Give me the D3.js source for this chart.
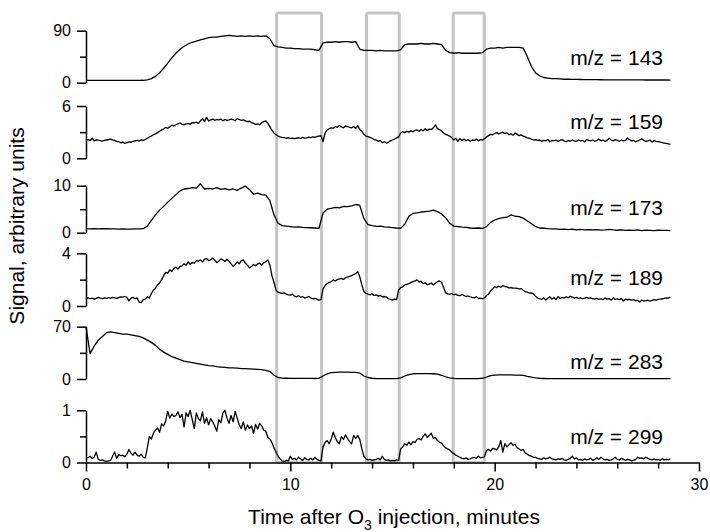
<!DOCTYPE html>
<html>
<head>
<meta charset="utf-8">
<script src="https://cdn.jsdelivr.net/npm/d3@7"></script>
<style>
  body { margin: 0; background: #fff; }
  svg { display: block; }
  text { font-family: "Liberation Sans", Arial, sans-serif; fill: #000; }
</style>
</head>
<body>
<svg id="chart" width="710" height="532"></svg>
<script>
// ---- data ------------------------------------------------------------
const seriesNames = ["m/z = 143", "m/z = 159", "m/z = 173", "m/z = 189", "m/z = 283", "m/z = 299"];
const seriesMax = [90, 6, 10, 4, 70, 1];

// windows (minutes) marked by grey frames
const windowStart = [9.33, 13.73, 17.97];
const windowEnd = [11.53, 15.33, 19.49];

const xMajorTicks = [0, 10, 20, 30];
const xMinorTicks = [2, 4, 6, 8, 12, 14, 16, 18, 22, 24, 26, 28];

// sampling interval of each record, minutes
const sampleStep = [0.2, 0.1, 0.2, 0.1, 0.2, 0.1];

const mz143 = [
  4,4,4,4,4, 4,4,4,4,4, 4,4,4,4,4.2,
  5,7,11,17,25, 34,43,51,58,63, 67,70,72,74,76,
  78,79,79,80,81, 82,81,80,81,80, 81,80,81,80,81,
  76,64,62,61,60, 60,59,59,58,58, 58,57,56,69,70,
  70,71,70,71,71, 70,71,58,56,56, 56,55,56,55,55,
  55,55,57,66,67, 67,67,68,67,67, 68,67,66,56,52,
  51,52,51,51,51, 51,51,52,58,60, 60,61,60,61,61,
  61,61,60,45,28, 17,12,9,8,7, 7,6.5,6,6,5.8,
  5.6,5.5,5.4,5.3,5.2, 5.2,5.1,5,5,5, 5,4.9,4.9,4.8,4.8,
  4.8,4.8,4.7,4.7,4.7, 4.7,4.7,4.7,4.6
];

const mz159 = [
  2.10,2.15,2.05,2.30,2.00,2.12,2.08,2.02,1.98,2.05,
  2.10,2.15,2.20,2.12,2.05,1.95,1.90,1.78,1.85,1.72,
  1.80,1.88,1.82,1.95,2.00,2.05,1.98,2.10,2.05,2.15,
  2.30,2.45,2.55,2.70,2.80,2.95,3.10,3.25,3.35,3.55,
  3.45,3.60,3.80,3.70,3.85,3.95,4.05,3.90,3.85,3.95,
  4.00,3.90,4.10,4.05,4.15,4.00,4.30,4.55,4.20,4.70,
  4.30,4.40,4.50,4.35,4.45,4.40,4.50,4.30,4.45,4.35,
  4.40,4.50,4.45,4.30,4.55,4.45,4.35,4.40,4.30,4.20,
  4.25,4.10,4.00,3.90,3.95,3.85,4.10,4.20,4.30,4.00,
  3.60,3.20,2.90,2.70,2.55,2.45,2.40,2.38,2.30,2.35,
  2.28,2.32,2.25,2.30,2.35,2.28,2.40,2.32,2.35,2.42,
  2.38,2.45,2.40,2.50,2.55,2.60,1.90,2.90,3.25,3.40,
  3.50,3.45,3.62,3.55,3.75,3.60,3.50,3.70,3.65,3.55,
  3.50,3.65,3.40,3.75,3.30,3.10,2.75,2.55,2.48,2.40,
  2.30,2.15,2.10,1.95,2.05,1.80,1.90,1.75,1.85,2.00,
  2.10,2.20,2.35,2.45,2.90,3.05,2.95,3.10,3.00,3.15,
  3.05,3.20,3.25,3.10,3.30,3.15,3.40,3.20,3.35,3.30,
  3.50,3.85,3.40,3.30,3.15,2.90,2.75,2.65,2.55,2.35,
  2.10,2.30,1.95,2.25,2.05,2.20,2.00,2.15,1.95,2.10,
  2.05,2.20,2.00,2.15,2.10,2.25,2.45,2.60,2.75,2.70,
  2.85,2.95,2.80,2.90,3.00,2.85,2.92,2.70,2.80,2.65,
  2.90,2.75,2.60,2.68,2.55,2.45,2.35,2.30,2.20,2.10,
  2.15,2.05,2.10,1.95,2.05,2.00,2.15,1.90,2.05,2.00,
  2.10,1.95,2.05,2.15,2.00,1.90,2.05,1.95,2.10,2.00,
  1.95,2.10,2.00,2.05,1.90,2.15,2.05,2.00,2.10,1.95,
  2.05,2.20,2.00,2.10,1.95,2.05,2.30,2.10,2.00,2.15,
  2.05,1.95,2.10,2.00,2.05,2.30,2.15,2.00,2.05,1.90,
  2.00,2.10,2.25,2.05,1.95,2.00,2.10,1.85,2.05,1.95,
  1.90,1.85,1.80,1.75,1.70,1.65,1.60
];

const mz173 = [
  0.85,0.82,0.88,0.80,0.84, 0.86,0.80,0.82,0.78,0.80,
  0.74,0.78,0.82,0.80,0.85, 1.40,2.60,3.80,4.80,5.60,
  6.50,7.30,8.10,8.90,9.30, 9.40,9.60,9.50,10.40,9.30,
  9.45,9.30,9.60,9.20,9.40, 9.10,9.30,9.00,9.50,9.90,
  9.20,8.20,8.40,8.10,8.00, 6.80,3.80,2.00,1.50,1.40,
  1.30,1.20,1.25,1.15,1.10, 1.05,1.00,0.90,4.20,5.00,
  5.20,5.40,5.30,5.60,5.55, 5.70,6.00,5.80,3.00,1.70,
  1.50,1.35,1.40,1.25,1.20, 1.10,1.00,0.95,1.80,3.50,
  4.10,4.20,4.40,4.50,4.60, 4.80,4.50,4.00,3.20,2.00,
  1.40,1.30,1.20,1.15,1.00, 0.95,1.00,0.90,1.30,2.20,
  2.70,3.00,3.20,3.30,3.80, 3.50,3.40,3.10,2.50,1.90,
  1.30,1.00,0.95,0.85,0.80, 0.82,0.70,0.78,0.65,0.75,
  0.62,0.70,0.60,0.66,0.58, 0.65,0.55,0.60,0.70,0.58,
  0.52,0.60,0.48,0.55,0.50, 0.58,0.46,0.55,0.50,0.45,
  0.52,0.48,0.50,0.46
];

const mz189 = [
  0.58,0.62,0.55,0.60,0.52,0.58,0.66,0.60,0.56,0.62,
  0.58,0.64,0.60,0.66,0.62,0.58,0.64,0.70,0.68,0.72,
  0.65,0.38,0.60,0.66,0.55,0.62,0.30,0.25,0.48,0.52,
  0.70,0.60,0.95,1.20,1.35,1.60,1.75,2.00,2.30,2.55,
  2.50,2.75,2.62,2.85,2.95,2.80,3.00,3.05,3.20,3.10,
  3.35,3.15,3.30,3.25,3.45,3.40,3.50,3.35,3.55,3.60,
  3.45,3.50,3.65,3.48,3.30,3.40,3.58,3.50,3.38,3.55,
  3.40,3.20,3.00,3.15,3.35,3.20,3.45,3.50,3.25,3.10,
  2.90,3.00,3.15,3.05,3.20,3.25,3.10,3.30,3.35,3.50,
  3.10,2.30,1.80,1.20,1.05,1.00,0.95,1.00,0.90,0.85,
  0.82,0.90,0.75,0.70,0.78,0.68,0.72,0.60,0.66,0.72,
  0.62,0.55,0.58,0.52,0.45,0.48,1.30,1.55,1.70,1.80,
  1.85,1.98,1.90,2.00,2.05,2.10,2.02,2.15,2.20,2.25,
  2.30,2.40,2.45,2.62,2.20,1.60,1.10,0.95,0.90,0.85,
  0.92,0.80,0.85,0.75,0.80,0.70,0.72,0.68,0.55,0.50,
  0.45,0.52,0.48,1.20,1.40,1.45,1.60,1.65,1.70,1.78,
  1.85,1.90,1.98,1.82,1.88,1.70,1.75,1.62,1.66,1.75,
  1.60,1.72,1.85,1.90,1.80,1.40,1.00,0.92,0.88,0.95,
  0.85,0.90,0.80,0.78,0.88,0.80,0.72,0.76,0.70,0.65,
  0.62,0.70,0.58,0.60,0.55,0.62,0.80,0.90,1.15,1.30,
  1.46,1.40,1.50,1.42,1.55,1.48,1.45,1.38,1.40,1.35,
  1.36,1.34,1.30,1.32,1.20,1.10,1.05,0.98,1.00,0.90,
  0.75,0.60,0.55,0.50,0.62,0.45,0.58,0.70,0.52,0.65,
  0.48,0.72,0.56,0.66,0.60,0.70,0.62,0.74,0.68,0.60,
  0.65,0.58,0.62,0.55,0.60,0.66,0.58,0.62,0.55,0.52,
  0.58,0.50,0.55,0.48,0.60,0.52,0.56,0.45,0.62,0.50,
  0.55,0.48,0.58,0.38,0.52,0.46,0.50,0.44,0.48,0.40,
  0.42,0.30,0.45,0.38,0.40,0.44,0.36,0.42,0.48,0.45,
  0.50,0.52,0.55,0.58,0.62,0.60,0.68
];

const mz283 = [
  70,34,44,52,57, 62,63,62,61,60, 60,59,58,57,55,
  52,49,45,40,36, 33,30,28,26,24, 23,22,21,20,19,
  18,17.5,16.5,16,15.5, 15,14.8,14.5,14,13.8, 13.5,13.2,13,12.5,11.5,
  10,5,2,1.2,1, 0.9,0.9,0.8,0.8,0.8, 0.8,0.7,0.8,4,7,
  8.5,9,9.2,9.2,9.1, 9,9,8,4,2, 1,0.6,0.5,0.5,0.5,
  0.5,0.5,1.5,4,6, 7,7.2,7.2,7.2,7.1, 7,6.5,5,3,1.5,
  0.8,0.6,0.5,0.5,0.5, 0.5,0.5,1,2.5,4.5, 5.2,5.4,5.4,5.4,5.4,
  5.3,5.2,4.8,3.5,2.4, 1.5,1,0.7,0.5,0.4, 0.4,0.4,0.4,0.4,0.4,
  0.4,0.4,0.4,0.4,0.4, 0.4,0.4,0.4,0.4,0.4, 0.4,0.4,0.4,0.4,0.4,
  0.4,0.4,0.4,0.4,0.4, 0.4,0.4,0.4,0.4
];

const mz299 = [
  0.11,0.09,0.12,0.08,0.10,0.20,0.06,0.04,0.05,0.03,
  0.02,0.03,0.04,0.12,0.20,0.08,0.15,0.13,0.14,0.11,
  0.16,0.25,0.18,0.14,0.20,0.14,0.12,0.16,0.10,0.09,
  0.28,0.50,0.45,0.56,0.62,0.66,0.58,0.74,0.70,0.80,
  0.98,0.85,0.93,0.88,0.90,0.97,0.86,0.92,0.68,0.95,
  0.88,1.00,0.82,0.65,0.95,0.84,0.80,0.97,0.75,0.86,
  0.72,0.84,0.78,0.70,0.60,0.82,0.76,0.95,1.00,0.85,
  0.75,0.90,0.78,0.98,0.85,0.72,0.65,0.78,0.62,0.72,
  0.65,0.70,0.56,0.73,0.64,0.75,0.70,0.62,0.60,0.48,
  0.45,0.38,0.28,0.20,0.12,0.07,0.03,0.02,0.04,0.03,
  0.12,0.06,0.08,0.05,0.10,0.07,0.04,0.09,0.06,0.05,
  0.08,0.05,0.10,0.06,0.04,0.03,0.30,0.38,0.42,0.36,
  0.45,0.58,0.48,0.40,0.36,0.50,0.44,0.53,0.46,0.40,
  0.36,0.52,0.46,0.52,0.44,0.26,0.12,0.07,0.05,0.06,
  0.04,0.05,0.06,0.08,0.05,0.12,0.06,0.04,0.05,0.03,
  0.04,0.03,0.05,0.04,0.26,0.30,0.36,0.33,0.39,0.34,
  0.40,0.38,0.44,0.46,0.43,0.50,0.55,0.48,0.52,0.56,
  0.46,0.48,0.42,0.39,0.37,0.32,0.28,0.26,0.24,0.20,
  0.17,0.14,0.12,0.10,0.08,0.07,0.09,0.06,0.07,0.09,
  0.10,0.08,0.12,0.09,0.10,0.11,0.23,0.25,0.22,0.27,
  0.26,0.24,0.30,0.42,0.20,0.36,0.30,0.34,0.38,0.33,
  0.35,0.28,0.26,0.23,0.25,0.18,0.16,0.13,0.12,0.10,
  0.10,0.08,0.07,0.06,0.09,0.07,0.08,0.10,0.07,0.06,
  0.05,0.07,0.06,0.08,0.05,0.04,0.06,0.08,0.12,0.07,
  0.09,0.05,0.06,0.04,0.07,0.05,0.06,0.08,0.04,0.06,
  0.09,0.06,0.10,0.07,0.05,0.06,0.04,0.05,0.07,0.10,
  0.06,0.05,0.08,0.06,0.04,0.06,0.05,0.03,0.04,0.06,
  0.10,0.08,0.09,0.07,0.10,0.08,0.06,0.05,0.07,0.05,
  0.06,0.04,0.07,0.05,0.06,0.05,0.07
];

const seriesValues = [mz143, mz159, mz173, mz189, mz283, mz299];

// ---- layout ----------------------------------------------------------
const svg = d3.select("#chart");
const xLeft = 86, xRight = 699;
// pixel rows of each stacked strip: [top (max value), bottom (zero)]
const stripTop = [30.7, 106, 185.7, 253.3, 326.7, 410.3];
const stripBottom = [82.7, 158.3, 232.7, 306, 379, 462.5];
const labelCenter = [58, 122, 208, 278, 362, 437];
const frameTop = 13;

const x = d3.scaleLinear().domain([0, 30]).range([xLeft, xRight]);

// grey frames over the measurement windows
svg.append("g").selectAll("rect")
  .data(windowStart)
  .join("rect")
  .attr("x", (d) => x(d))
  .attr("y", frameTop)
  .attr("width", (d, i) => x(windowEnd[i]) - x(d))
  .attr("height", stripBottom[5] - frameTop)
  .attr("rx", 2)
  .attr("fill", "none")
  .attr("stroke", "#c4c4c4")
  .attr("stroke-width", 3);

seriesValues.forEach((vals, k) => {
  const y = d3.scaleLinear().domain([0, seriesMax[k]]).range([stripBottom[k], stripTop[k]]);
  const g = svg.append("g");

  // left axis: end ticks with labels, a shorter unlabelled middle tick
  const axMain = g.append("g")
    .attr("transform", `translate(${xLeft},0)`)
    .call(d3.axisLeft(y).tickValues([0, seriesMax[k]]).tickSize(9).tickSizeOuter(0)
      .tickPadding(6).tickFormat(d3.format("d")));
  g.append("g")
    .attr("transform", `translate(${xLeft},0)`)
    .call(d3.axisLeft(y).tickValues([seriesMax[k] / 2]).tickSize(6).tickSizeOuter(0).tickFormat(""))
    .select(".domain").remove();
  g.selectAll(".domain, .tick line").attr("stroke", "#000").attr("stroke-width", 1.5);
  axMain.selectAll("text").attr("font-size", 16).attr("font-family", "Liberation Sans, Arial, sans-serif").attr("fill", "#000");

  const line = d3.line()
    .x((d, i) => x(i * sampleStep[k]))
    .y((d) => y(d));

  g.append("path")
    .datum(vals)
    .attr("d", line)
    .attr("fill", "none")
    .attr("stroke", "#000")
    .attr("stroke-width", 1.3)
    .attr("stroke-linejoin", "round");

  g.append("text")
    .attr("x", 663)
    .attr("y", labelCenter[k])
    .attr("dy", "0.35em")
    .attr("text-anchor", "end")
    .attr("font-size", 21)
    .text(seriesNames[k]);
});

// shared time axis under the bottom strip
const xAxis = svg.append("g").attr("transform", `translate(0,${stripBottom[5]})`);
xAxis.call(d3.axisBottom(x).tickValues(xMajorTicks).tickSize(9).tickSizeOuter(0).tickPadding(7)
  .tickFormat(d3.format("d")));
const xMinor = svg.append("g").attr("transform", `translate(0,${stripBottom[5]})`);
xMinor.call(d3.axisBottom(x).tickValues(xMinorTicks).tickSize(6).tickSizeOuter(0).tickFormat(""));
xMinor.select(".domain").remove();
svg.selectAll(".domain, .tick line").attr("stroke", "#000").attr("stroke-width", 1.5);
xAxis.selectAll("text").attr("font-size", 16).attr("font-family", "Liberation Sans, Arial, sans-serif").attr("fill", "#000");

// axis titles
const xTitle = svg.append("text")
  .attr("x", 394)
  .attr("y", 524)
  .attr("text-anchor", "middle")
  .attr("font-size", 21);
xTitle.append("tspan").text("Time after O");
xTitle.append("tspan").attr("font-size", 14).attr("dy", 6).text("3");
xTitle.append("tspan").attr("dy", -6).text(" injection, minutes");

svg.append("text")
  .attr("transform", "translate(24,226) rotate(-90)")
  .attr("text-anchor", "middle")
  .attr("font-size", 21)
  .text("Signal, arbitrary units");
</script>
</body>
</html>
